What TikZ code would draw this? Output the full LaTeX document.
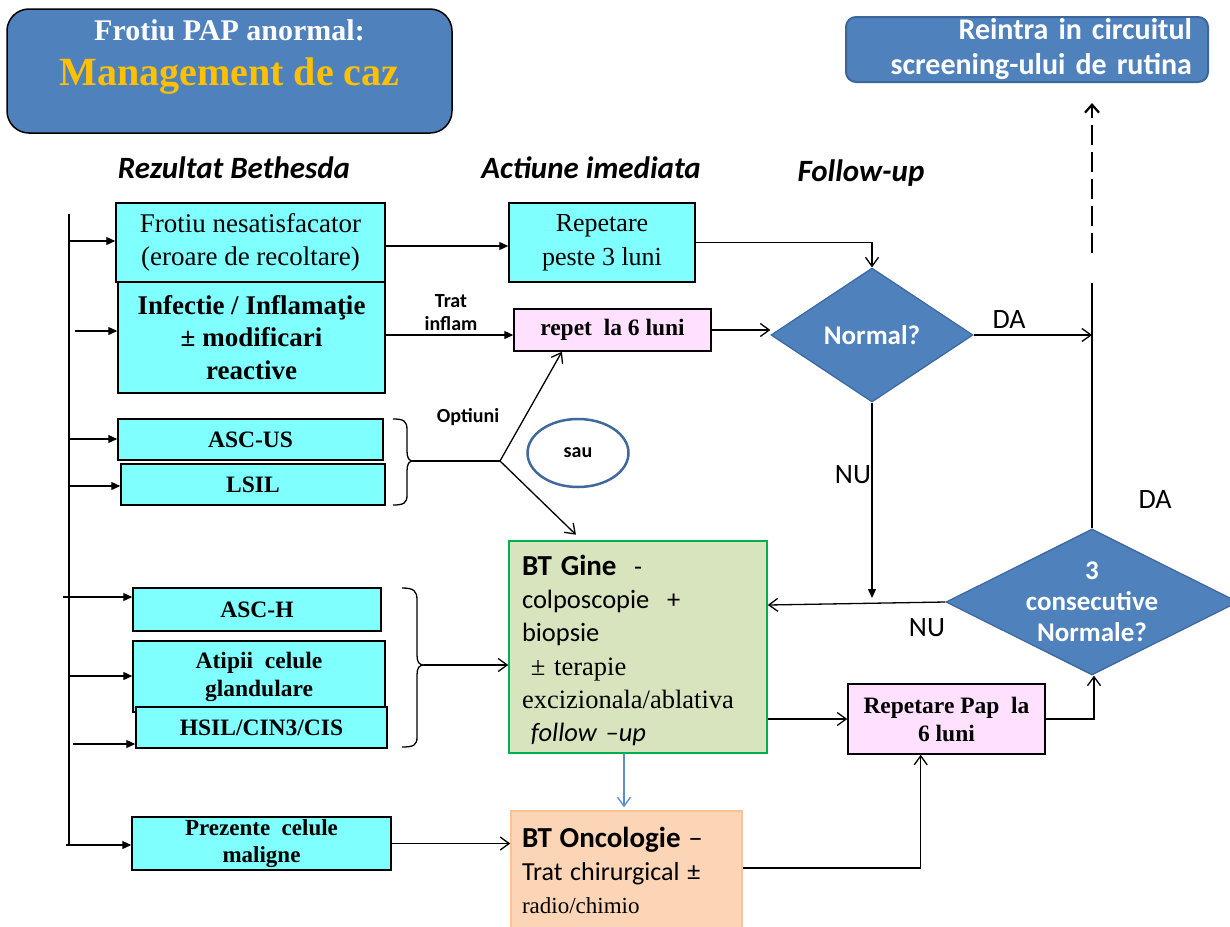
\documentclass[tikz,border=0pt]{standalone}
\usepackage{fontspec}
\setmainfont{Liberation Serif}
\newfontfamily\calfont{Carlito}
\usetikzlibrary{arrows.meta,shapes.geometric,calc}

\definecolor{cyanbox}{HTML}{80FFFF}
\definecolor{pinkbox}{HTML}{FFE0FF}
\definecolor{steel}{HTML}{4F81BD}
\definecolor{steeldark}{HTML}{3B679E}
\definecolor{gold}{HTML}{FFC000}
\definecolor{ginefill}{HTML}{D7E4BD}
\definecolor{gineline}{HTML}{00B050}
\definecolor{oncofill}{HTML}{FBD5B5}
\definecolor{oncoline}{HTML}{F9C394}
\definecolor{ovalline}{HTML}{41689A}
\definecolor{linkblue}{HTML}{5B8BD0}

\newcommand\fz[2]{\fontsize{#1}{#2}\selectfont}

\begin{document}
\begin{tikzpicture}[x=1pt,y=-1pt,
  box/.style={draw=black, line width=1.5pt, inner sep=0pt, align=center},
  cbox/.style={box, fill=cyanbox},
  pbox/.style={box, fill=pinkbox},
  small/.style={font=\bfseries\fz{23.5}{28}},
  cond/.style={diamond, draw=steeldark, line width=1.2pt, fill=steel, inner sep=0pt},
  dtext/.style={text=white, font=\calfont\bfseries\fz{27}{31}, align=center},
  head/.style={font=\calfont\bfseries\itshape\fz{31}{35}},
  note/.style={font=\calfont\bfseries\fz{20}{23}, align=center},
  ans/.style={font=\calfont\fz{28}{32}},
  ln/.style={line width=1.3pt},
  fa/.style={ln, -{Triangle[length=9pt,width=8pt]}},
  oa/.style={ln, -{Straight Barb[length=9pt,width=13pt]}},
]
\useasboundingbox (0,0) rectangle (1230,926);

% ---- title blocks ----
\node[draw=black, line width=1.5pt, fill=steel, rounded corners=22pt,
      minimum width=445pt, minimum height=124pt,
      label={[align=center, font=\bfseries\fz{30}{45}, yshift=14pt]center:{{\color{white}Frotiu PAP anormal:}\\{\color{gold}\fz{40}{45}Management de caz}}}]
      (title) at (229.5,71) {};
\node[draw=steeldark, line width=2pt, fill=steel, rounded corners=10pt,
      text width=330pt, align=right, inner xsep=16pt, inner ysep=0pt,
      minimum height=65pt, text=white, font=\calfont\bfseries\fz{30}{35}]
      (reintra) at (1027,49.5) {Reintra in circuitul\\screening-ului de rutina};

% ---- column headers ----
\node[head] (h1) at (234,168) {Rezultat Bethesda};
\node[head] (h2) at (591,168) {Actiune imediata};
\node[head] (h3) at (861,173) {Follow-up};

% ---- Bethesda results ----
\node[cbox, minimum width=269pt, minimum height=79pt, font=\fz{27}{33}]
      (f1) at (250.5,242.5) {Frotiu nesatisfacator\\(eroare de recoltare)};
\node[cbox, minimum width=267pt, minimum height=111pt, font=\bfseries\fz{27}{32.5}]
      (f2) at (251.5,337.5) {Infectie / Inflamaţie\\± modificari\\reactive};
\node[cbox, small, minimum width=265pt, minimum height=41pt] (ascus) at (250.5,439.5) {ASC-US};
\node[cbox, small, minimum width=264pt, minimum height=41pt] (lsil) at (253,484.5) {LSIL};
\node[cbox, small, minimum width=248pt, minimum height=43pt] (asch) at (257,609.5) {ASC-H};
\node[cbox, small, minimum width=252pt, minimum height=71pt] (atip) at (259,676.5) {Atipii\ \ celule\\glandulare};
\node[cbox, small, minimum width=251pt, minimum height=41pt] (hsil) at (261.5,727.5) {HSIL/CIN3/CIS};
\node[cbox, minimum width=259pt, minimum height=53pt, font=\bfseries\fz{23}{27}]
      (prez) at (261.5,843.5) {Prezente\ \ celule\\maligne};

% ---- immediate actions ----
\node[cbox, minimum width=186pt, minimum height=79pt, font=\fz{26}{34}]
      (rep3) at (602,242.5) {Repetare\\peste 3 luni};
\node[pbox, small, minimum width=197pt, minimum height=42pt] (rep6) at (612.5,330) {repet\ \ la 6 luni};
\node[ellipse, draw=ovalline, line width=2.5pt, minimum width=101pt, minimum height=68pt,
      font=\calfont\bfseries\fz{20}{23}] (sau) at (578,453) {sau};
\node[draw=gineline, line width=1.5pt, fill=ginefill, minimum width=258pt, minimum height=212pt,
      text width=232pt, inner xsep=13pt, inner ysep=0pt, align=left, font=\fz{26.5}{33.3}]
      (gine) at (638,647) {\rule{0pt}{27pt}{\calfont\bfseries\fz{29}{33.3}BT Gine}{\calfont\fz{26}{33.3}\ \ -}\\
      {\calfont\fz{26.5}{33.3}colposcopie\ \ +}\\
      {\calfont\fz{26.5}{33.3}biopsie}\\
      \ ± terapie\\
      excizionala/ablativa\\
      {\calfont\itshape\fz{26.5}{33.3}\ follow –up}};
\node[draw=oncoline, line width=1.5pt, fill=oncofill, minimum width=231pt, minimum height=119pt,
      text width=209pt, inner xsep=11pt, inner ysep=0pt, align=left, font=\fz{23}{33}]
      (onco) at (626.5,870.5) {{\calfont\bfseries\fz{29}{33}BT Oncologie}{\calfont\fz{29}{33} –}\\
      {\calfont\fz{26}{33}Trat chirurgical ±}\\
      radio/chimio};

% ---- follow-up ----
\node[cond, minimum width=202pt, minimum height=134pt,
      label={[dtext]center:Normal?}] (d1) at (872,335) {};
\node[cond, minimum width=292pt, minimum height=146pt,
      label={[dtext]center:{3\\consecutive\\Normale?}}] (d2) at (1092,602) {};
\node[pbox, small, minimum width=197pt, minimum height=70pt] (reppap) at (946.5,719) {Repetare Pap\ \ la\\6 luni};

% ---- trunk on the left ----
\coordinate (vtop) at (69,214);
\coordinate (vbot) at (69,845);
\draw[ln] (vtop) -- (vbot);
\coordinate (s1) at (69,241);
\coordinate (s2) at (75,331);
\coordinate (s3) at (69,439);
\coordinate (s4) at (69,486);
\coordinate (s5) at (63,597);
\coordinate (s6) at (69,676);
\coordinate (s7) at (73,744);
\coordinate (s8) at (66,845);
\draw[fa] (s1) -- (s1 -| f1.west);
\draw[fa] (s2) -- (s2 -| f2.west);
\draw[fa] (s3) -- (s3 -| ascus.west);
\draw[fa] (s4) -- (s4 -| lsil.west);
\draw[fa] (s5) -- (s5 -| asch.west);
\draw[fa] (s6) -- (s6 -| atip.west);
\draw[fa] (s7) -- (s7 -| hsil.west);
\draw[fa] (s8) -- (s8 -| prez.west);

% ---- first column to actions ----
\draw[fa] ([yshift=-3.5pt]f1.east) -- ([yshift=-3.5pt]rep3.west);
\draw[fa] ([yshift=2.5pt]f2.east) -- ([yshift=2.5pt]f2.east -| rep6.west);
\node[note] (trat) at (451,313) {Trat\\inflam};

% brace for ASC-US / LSIL and the two options
\draw[ln] (393,419) .. controls (404,419) and (407,421) .. (407,430) -- (407,451)
  .. controls (407,458) and (409,461) .. (413,461)
  .. controls (409,461) and (407,464) .. (407,471) -- (407,495)
  .. controls (407,503) and (404,505) .. (393,505);
\coordinate (b1) at (413,461);
\coordinate (br) at (500,461);
\draw[ln] (b1) -- (br);
\coordinate (up6) at ($(rep6.south west)!0.245!(rep6.south east)$);
\coordinate (dng) at ($(gine.north west)!0.283!(gine.north east)$);
\draw[oa] (br) -- (up6);
\draw[oa, shorten >=8pt] (br) -- (dng);
\node[note] (opt) at (468,417) {Optiuni};

% brace for ASC-H / AGC / HSIL
\draw[ln] (402,588) .. controls (414,588) and (417,591) .. (417,600) -- (417,655)
  .. controls (417,662) and (419,665) .. (424,665)
  .. controls (419,665) and (417,668) .. (417,675) -- (417,737)
  .. controls (417,745) and (414,747) .. (402,747);
\coordinate (b2) at (424,665);
\draw[oa] (b2) -- (b2 -| gine.west);

\draw[oa] (prez.east) -- (prez.east -| onco.west);
\draw[oa, linkblue, shorten >=3pt] ([xshift=-14pt]gine.south) -- ([xshift=-14pt]gine.south |- onco.north);

% ---- follow-up links ----
\draw[oa] (rep3.east) -| (d1.north);
\draw[oa] (rep6.east) -- (rep6.east -| d1.west);
\coordinate (vj) at (d1.east -| d2.north);
\draw[oa] (d1.east) -- (vj);
\coordinate (vt) at (1092,283);
\draw[ln] (d2.north) -- (vt);
\coordinate (dstart) at (1092,253);
\draw[line width=2.2pt, dash pattern=on 20pt off 7pt,
      -{Straight Barb[length=8pt,width=14pt]}, shorten >=20pt]
      (dstart) -- (dstart |- reintra.south);
\coordinate (nuj) at (d1.south |- d2.west);
\draw[fa, shorten >=4pt] (d1.south) -- (nuj);
\draw[oa] (d2.west) -- ([yshift=-3pt]d2.west -| gine.east);
\draw[oa] ([yshift=-72pt]gine.east) -- ([yshift=-72pt]gine.east -| reppap.west);
\coordinate (rpin) at ($(reppap.south west)!0.37!(reppap.south east)$);
\draw[oa] ([yshift=2.5pt]onco.east) -| (rpin);
\draw[oa] (reppap.east) -| ([xshift=2pt]d2.south);

\node[ans] (da1) at (1009,320) {DA};
\node[ans] (da2) at (1155,500) {DA};
\node[ans] (nu1) at (853,475) {NU};
\node[ans] (nu2) at (927,628) {NU};
\end{tikzpicture}
\end{document}
